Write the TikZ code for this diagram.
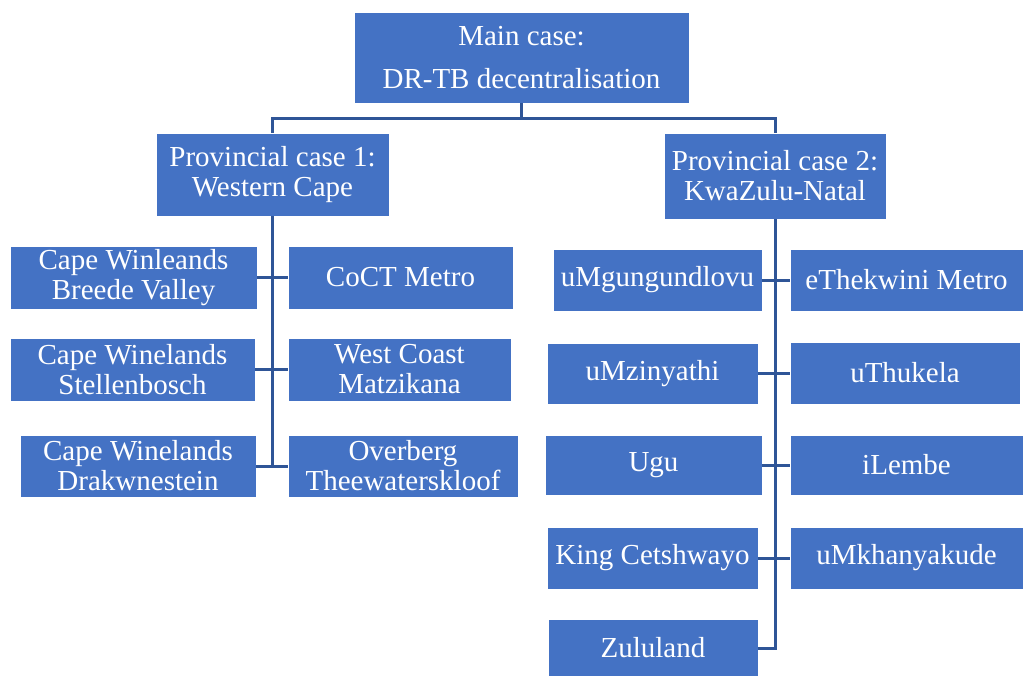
\documentclass[tikz,border=0pt]{standalone}
\usepackage{fontspec}
\setmainfont{Liberation Serif}
\definecolor{boxblue}{HTML}{4472C4}
\definecolor{lineblue}{HTML}{2F5597}
\begin{document}
\begin{tikzpicture}
		[x=1pt,y=-1pt,
		case/.style={fill=boxblue,draw=white,line width=0.6pt,text=white,
			align=center,inner sep=0pt,font=\fontsize{29}{30}\selectfont},
		link/.style={draw=lineblue,line width=3pt}]
		\useasboundingbox (0,0) rectangle (1023,675);
		\node[case,minimum width=335pt,minimum height=91pt] (main) at (521.5,57.5) {Main case:\\[13pt]DR-TB decentralisation};
		\node[case,minimum width=233pt,minimum height=83pt] (wc) at (272.5,174.5) {Provincial case 1:\\Western Cape};
		\node[case,minimum width=222pt,minimum height=86pt] (kzn) at (775,176) {Provincial case 2:\\KwaZulu-Natal};
		\coordinate (split) at (521.5,118);
		\draw[link] (main) -- (split) -| (wc);
		\draw[link] (split) -| (kzn);
		\node[case,minimum width=247pt,minimum height=63pt] (bv) at (133.5,277.5) {Cape Winleands\\Breede Valley};
		\node[case,minimum width=225pt,minimum height=63pt] (coct) at (400.5,277.5) {CoCT Metro};
		\node[case,minimum width=245pt,minimum height=63pt] (stb) at (132.5,369.5) {Cape Winelands\\Stellenbosch};
		\node[case,minimum width=223pt,minimum height=63pt] (wcm) at (399.5,369.5) {West Coast\\Matzikana};
		\node[case,minimum width=236pt,minimum height=62pt] (drk) at (138,466) {Cape Winelands\\Drakwnestein};
		\node[case,minimum width=230pt,minimum height=62pt] (ovb) at (403,466) {Overberg\\Theewaterskloof};
		\foreach \n in {bv,coct,stb,wcm,drk,ovb}
			\draw[link] (wc) |- (\n);
		\node[case,minimum width=209pt,minimum height=62pt] (umg) at (657.5,280) {uMgungundlovu};
		\node[case,minimum width=233pt,minimum height=62pt] (eth) at (906.5,280) {eThekwini Metro};
		\node[case,minimum width=211pt,minimum height=61pt] (umz) at (652.5,373.5) {uMzinyathi};
		\node[case,minimum width=230pt,minimum height=62pt] (uth) at (905,373) {uThukela};
		\node[case,minimum width=217pt,minimum height=60pt] (ugu) at (653.5,465) {Ugu};
		\node[case,minimum width=233pt,minimum height=60pt] (ilm) at (906.5,465) {iLembe};
		\node[case,minimum width=211pt,minimum height=62pt] (kc) at (652.5,558) {King Cetshwayo};
		\node[case,minimum width=233pt,minimum height=62pt] (umk) at (906.5,558) {uMkhanyakude};
		\node[case,minimum width=210pt,minimum height=57pt] (zul) at (653,648) {Zululand};
		\foreach \n in {umg,eth,umz,uth,ugu,ilm,kc,umk,zul}
			\draw[link] (kzn) |- (\n);
	\end{tikzpicture}
\end{document}
